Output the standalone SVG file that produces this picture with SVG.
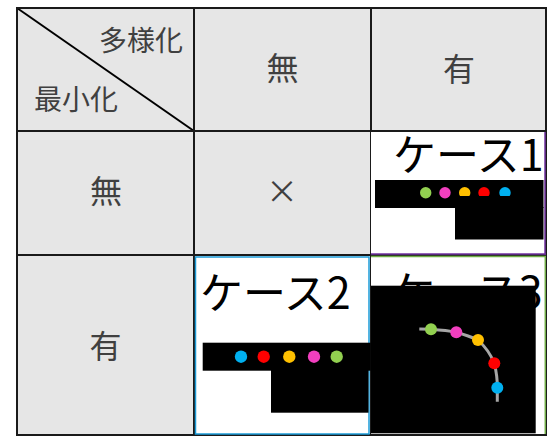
<svg xmlns="http://www.w3.org/2000/svg" width="547" height="440" viewBox="0 0 547 440">
<style>
.hd{fill:#e6e6e6}
.grid{stroke:#1a1a1a;stroke-width:2;fill:none}
.lbl{font-family:"Noto Sans CJK JP","Noto Sans",sans-serif;fill:#404040}
.case{font-family:"Noto Sans CJK JP","Noto Sans",sans-serif;fill:#000;font-size:43px}
.blk{fill:#000}
.g{fill:#92d050}.p{fill:#f23fbf}.o{fill:#ffc000}.r{fill:#ff0000}.b{fill:#00b0f0}
</style>
<defs>
<clipPath id="c1"><rect x="371" y="132" width="174" height="122"/></clipPath>
<clipPath id="c3"><rect x="371" y="257" width="174" height="177"/></clipPath>
<clipPath id="half"><rect x="455" y="180" width="60" height="16"/></clipPath>
</defs>
<rect width="547" height="440" fill="#fff"/>
<g id="header-corner">
<rect class="hd" x="17" y="8" width="177" height="123"/>
<line x1="17" y1="8" x2="194" y2="131" stroke="#000" stroke-width="2"/>
<text class="lbl" x="183" y="51" font-size="28" text-anchor="end">多様化</text>
<text class="lbl" x="34" y="110" font-size="28">最小化</text>
</g>
<g id="header-col-none">
<rect class="hd" x="194" y="8" width="177" height="123"/>
<text class="lbl" x="282.5" y="80" font-size="32" text-anchor="middle">無</text>
</g>
<g id="header-col-yes">
<rect class="hd" x="371" y="8" width="175" height="123"/>
<text class="lbl" x="459" y="81" font-size="32" text-anchor="middle">有</text>
</g>
<g id="header-row-none">
<rect class="hd" x="17" y="131" width="177" height="124"/>
<text class="lbl" x="106" y="203" font-size="32" text-anchor="middle">無</text>
</g>
<g id="header-row-yes">
<rect class="hd" x="17" y="255" width="177" height="180"/>
<text class="lbl" x="105.5" y="358" font-size="32" text-anchor="middle">有</text>
</g>
<g id="cell-none-none">
<rect class="hd" x="194" y="131" width="177" height="124"/>
<text class="lbl" x="282" y="203" font-size="32" text-anchor="middle">×</text>
</g>
<g id="grid">
<rect class="grid" x="17" y="8" width="529" height="427"/>
<line class="grid" x1="194" y1="8" x2="194" y2="435"/>
<line class="grid" x1="371" y1="8" x2="371" y2="435"/>
<line class="grid" x1="17" y1="131" x2="546" y2="131"/>
<line class="grid" x1="17" y1="255" x2="546" y2="255"/>
</g>
<g id="case1">
<rect x="371" y="132" width="174" height="122" fill="#fff"/>
<g clip-path="url(#c1)">
<text class="case" x="393" y="171">ケース1</text>
</g>
<line x1="545" y1="132" x2="545" y2="254.5" stroke="#7030a0" stroke-width="1.5"/>
<line x1="371" y1="254" x2="546" y2="254" stroke="#7030a0" stroke-width="1.5"/>
<rect class="blk" x="375" y="180" width="168.5" height="28"/>
<rect class="blk" x="455" y="207" width="88.5" height="32.5"/>
<circle class="g" cx="425.7" cy="192.7" r="5.7"/>
<circle class="p" cx="445" cy="192.7" r="5.7"/>
<g clip-path="url(#half)">
<circle class="o" cx="464.7" cy="192.7" r="5.7"/>
<circle class="r" cx="484" cy="192.7" r="5.7"/>
<circle class="b" cx="505" cy="192.7" r="5.7"/>
</g>
</g>
<g id="case2">
<rect x="195.5" y="257" width="173.5" height="177" fill="#fff" stroke="#1b9bd7" stroke-width="1.5"/>
<text class="case" x="200" y="309">ケース2</text>
<rect class="blk" x="202.7" y="342.7" width="168" height="28"/>
<rect class="blk" x="271" y="370" width="97.5" height="42.7"/>
<circle class="b" cx="241" cy="356.7" r="6.2"/>
<circle class="r" cx="263.7" cy="356.7" r="6.2"/>
<circle class="o" cx="289.3" cy="356.7" r="6.2"/>
<circle class="p" cx="314" cy="356.7" r="6.2"/>
<circle class="g" cx="336.7" cy="356.7" r="6.2"/>
</g>
<g id="case3">
<rect x="371" y="256.5" width="174" height="177.5" fill="#fff"/>
<line x1="371" y1="256.5" x2="546" y2="256.5" stroke="#70ad47" stroke-width="1.5"/>
<line x1="545.3" y1="256.5" x2="545.3" y2="434" stroke="#70ad47" stroke-width="1.5"/>
<g clip-path="url(#c3)">
<text class="case" x="392" y="308">ケース3</text>
</g>
<rect class="blk" x="371" y="285.7" width="164.7" height="147.6"/>
<path d="M419.3,329 L431,329.3 Q447,330.5 456.3,332.3 Q469,336 478,340 Q489,350 494.3,363.3 Q497.5,376 497.3,387.7 L497.3,401.7" fill="none" stroke="#a6a6a6" stroke-width="3"/>
<circle class="g" cx="431" cy="329.3" r="6"/>
<circle class="p" cx="456.3" cy="332.3" r="6"/>
<circle class="o" cx="478" cy="340" r="6"/>
<circle class="r" cx="494.3" cy="363.3" r="6"/>
<circle class="b" cx="497.3" cy="387.7" r="6"/>
</g>
</svg>
